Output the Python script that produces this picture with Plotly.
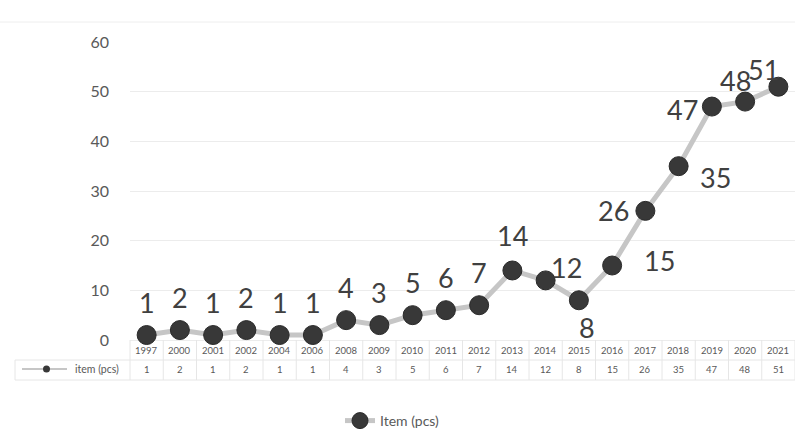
import plotly.graph_objects as go

# Yearly counts of items (pcs)
years = ["1997", "2000", "2001", "2002", "2004", "2006", "2008", "2009", "2010", "2011",
         "2012", "2013", "2014", "2015", "2016", "2017", "2018", "2019", "2020", "2021"]
items = [1, 2, 1, 2, 1, 1, 4, 3, 5, 6, 7, 14, 12, 8, 15, 26, 35, 47, 48, 51]
y_ticks = [0, 10, 20, 30, 40, 50, 60]
series_name = "Item (pcs)"

# Data-label offsets in pixels (right, down) from each point
label_offsets = [(0, -33)] * 11 + [
    (0, -35), (21, -13), (8, 27), (47, -5), (-32, 0),
    (37, 11), (-29, 3), (-10, -21), (-15, -17),
]

# Page geometry
W, H = 795, 447
L, R, T, B = 130, 0, 42, 107
PW, PH = W - L - R, H - T - B
PLOT_BOTTOM = T + PH

FONT = "Lato, 'Open Sans', sans-serif"
TXT = "#595959"
LINE_C = "#c6c6c6"
MARK_C = "#383838"
GRID_C = "#ececec"


def px(x):
    """Horizontal pixel -> paper fraction."""
    return (x - L) / PW


def py(y):
    """Vertical pixel -> paper fraction."""
    return (PLOT_BOTTOM - y) / PH


fig = go.Figure()
fig.add_trace(go.Scatter(
    x=years, y=items, name=series_name,
    mode="lines+markers",
    line=dict(color=LINE_C, width=5),
    marker=dict(color=MARK_C, size=19, line=dict(color="#2a2a2a", width=1)),
    cliponaxis=False,
    hoverinfo="x+y",
))

annotations = []
# Data labels (category axis: positioned by category index)
for i, (v, (dx, dy)) in enumerate(zip(items, label_offsets)):
    annotations.append(dict(
        x=i, y=v, xref="x", yref="y", text=str(v), showarrow=False,
        xanchor="center", yanchor="middle", xshift=dx, yshift=-dy,
        font=dict(family=FONT, size=27, color="#404040"),
    ))

# Data table under the plot: year row and value row
ROW1, ROW2 = 350, 369
for i, (yr, v) in enumerate(zip(years, items)):
    annotations.append(dict(
        x=i, y=py(ROW1), xref="x", yref="paper", text=yr, showarrow=False,
        xanchor="center", yanchor="middle",
        font=dict(family=FONT, size=9.5, color=TXT),
    ))
    annotations.append(dict(
        x=i, y=py(ROW2), xref="x", yref="paper", text=str(v), showarrow=False,
        xanchor="center", yanchor="middle",
        font=dict(family=FONT, size=9.5, color=TXT),
    ))
annotations.append(dict(
    x=px(97), y=py(ROW2), xref="paper", yref="paper", text=series_name.lower(),
    showarrow=False, xanchor="center", yanchor="middle",
    font=dict(family=FONT, size=10.5, color=TXT),
))

TB = "#e6e6e6"
shapes = []
# faint frame line at the top of the chart
shapes.append(dict(type="line", xref="paper", yref="paper",
                   x0=px(0), x1=px(W), y0=py(22), y1=py(22),
                   line=dict(color="#eeeeee", width=1)))
# table horizontal rules
for yy in (360, 380):
    shapes.append(dict(type="line", xref="paper", yref="paper",
                       x0=px(15), x1=px(W), y0=py(yy), y1=py(yy),
                       line=dict(color=TB, width=1)))
# table vertical rules between category cells
n = len(years)
for i in range(n + 1):
    xx = L + i * PW / n
    shapes.append(dict(type="line", xref="paper", yref="paper",
                       x0=px(xx), x1=px(xx), y0=py(PLOT_BOTTOM), y1=py(380),
                       line=dict(color=TB, width=1)))
shapes.append(dict(type="line", xref="paper", yref="paper",
                   x0=px(15), x1=px(15), y0=py(360), y1=py(380),
                   line=dict(color=TB, width=1)))
# legend key inside the table header cell
shapes.append(dict(type="line", xref="paper", yref="paper",
                   x0=px(22), x1=px(67), y0=py(ROW2), y1=py(ROW2),
                   line=dict(color=LINE_C, width=2)))
shapes.append(dict(type="circle", xref="paper", yref="paper",
                   x0=px(43), x1=px(50), y0=py(ROW2 + 3.5), y1=py(ROW2 - 3.5),
                   fillcolor=MARK_C, line=dict(color=MARK_C, width=0)))

fig.update_layout(
    width=W, height=H,
    margin=dict(l=L, r=R, t=T, b=B, pad=0),
    paper_bgcolor="white", plot_bgcolor="white",
    font=dict(family=FONT, color=TXT),
    showlegend=True,
    legend=dict(
        orientation="h", xref="container", yref="container",
        x=340 / W, xanchor="left", y=1 - 421 / H, yanchor="middle",
        font=dict(family=FONT, size=14, color=TXT),
        bgcolor="rgba(0,0,0,0)",
    ),
    xaxis=dict(
        type="category", categoryorder="array", categoryarray=years,
        range=[-0.5, n - 0.5], showticklabels=False, showgrid=False,
        zeroline=False, showline=False, ticks="",
    ),
    yaxis=dict(
        range=[0, 60], tickvals=y_ticks, ticktext=[str(t) for t in y_ticks],
        showgrid=True, gridcolor=GRID_C, gridwidth=1,
        zeroline=True, zerolinecolor=GRID_C, zerolinewidth=1,
        showline=False, ticks="", ticklabelstandoff=20,
        tickfont=dict(family=FONT, size=16, color=TXT),
    ),
    annotations=annotations,
    shapes=shapes,
)

fig.write_html("out.html")
